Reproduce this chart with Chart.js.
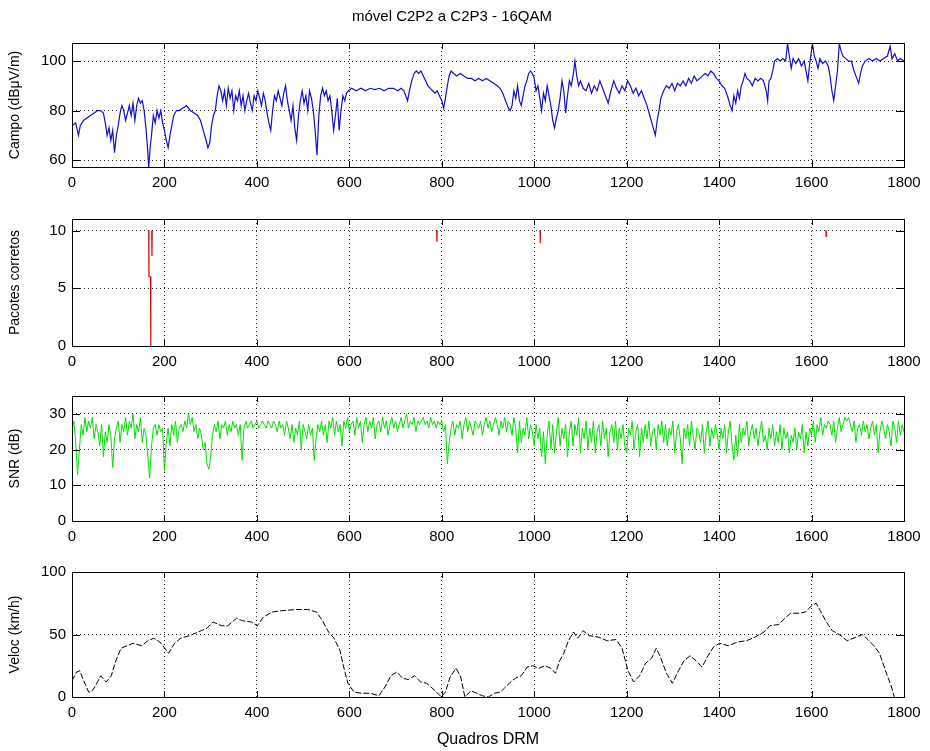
<!DOCTYPE html>
<html>
<head>
<meta charset="utf-8">
<title>móvel C2P2 a C2P3 - 16QAM</title>
<script src="https://cdn.jsdelivr.net/npm/chart.js@4.4.0/dist/chart.umd.min.js"></script>
<style>
  html, body { margin: 0; padding: 0; background: #fff; }
  #wrap { position: relative; width: 930px; height: 751px; }
  canvas { position: absolute; left: 0; }
</style>
</head>
<body>
<div id="wrap">
  <canvas id="campo" width="930" height="200" style="top:0px"></canvas>
  <canvas id="pacotes" width="930" height="180" style="top:200px"></canvas>
  <canvas id="snr" width="930" height="175" style="top:380px"></canvas>
  <canvas id="veloc" width="930" height="196" style="top:555px"></canvas>
</div>
<script>
// ticks shared by all four subplots
var xTicks = [0, 200, 400, 600, 800, 1000, 1200, 1400, 1600, 1800];
var campoTicks = [60, 80, 100];
var pacotesTicks = [0, 5, 10];
var snrTicks = [0, 10, 20, 30];
var velocTicks = [0, 50, 100];

// Campo (dBuV/m)
var campoX = [0, 8, 14, 18, 25, 32, 40, 48, 55, 62, 68, 72, 76, 80, 84, 88, 92, 96, 100, 104,
  108, 112, 116, 120, 124, 128, 132, 136, 140, 144, 148, 152, 156, 160, 163, 166, 169, 172, 176, 180,
  184, 188, 192, 196, 200, 204, 208, 212, 216, 220, 226, 232, 240, 248, 256, 264, 272, 278, 284, 290,
  294, 298, 302, 306, 310, 314, 318, 322, 326, 330, 334, 338, 342, 346, 350, 354, 358, 362, 366, 370,
  374, 378, 382, 386, 390, 394, 398, 402, 406, 410, 414, 418, 422, 426, 430, 434, 438, 442, 446, 450,
  454, 458, 462, 466, 470, 474, 478, 482, 486, 490, 494, 498, 502, 506, 510, 514, 518, 522, 526, 530,
  534, 538, 542, 546, 550, 554, 558, 562, 566, 570, 574, 578, 582, 586, 590, 594, 598, 605, 615, 625,
  635, 645, 655, 665, 675, 685, 695, 705, 712, 718, 722, 726, 730, 735, 740, 745, 750, 755, 760, 765,
  770, 775, 780, 785, 790, 795, 800, 804, 808, 812, 816, 820, 826, 832, 840, 848, 856, 864, 872, 880,
  888, 896, 904, 912, 920, 926, 932, 938, 944, 948, 952, 956, 960, 964, 968, 972, 976, 980, 984, 988,
  992, 996, 1000, 1004, 1008, 1012, 1016, 1020, 1024, 1028, 1032, 1036, 1040, 1044, 1048, 1052, 1056, 1060, 1064, 1068,
  1072, 1076, 1080, 1084, 1088, 1092, 1096, 1100, 1106, 1112, 1118, 1124, 1130, 1136, 1142, 1148, 1154, 1160, 1166, 1172,
  1178, 1184, 1190, 1196, 1202, 1208, 1214, 1220, 1226, 1232, 1238, 1244, 1250, 1256, 1262, 1266, 1270, 1274, 1280, 1286,
  1292, 1298, 1304, 1310, 1316, 1322, 1328, 1334, 1340, 1346, 1352, 1358, 1364, 1370, 1376, 1382, 1388, 1394, 1400, 1406,
  1412, 1418, 1424, 1428, 1432, 1436, 1440, 1444, 1448, 1452, 1456, 1460, 1466, 1472, 1478, 1484, 1490, 1496, 1502, 1505,
  1508, 1512, 1516, 1520, 1526, 1532, 1538, 1544, 1548, 1552, 1556, 1560, 1566, 1572, 1578, 1584, 1588, 1592, 1596, 1602,
  1606, 1610, 1614, 1618, 1624, 1630, 1636, 1640, 1644, 1648, 1652, 1656, 1660, 1664, 1668, 1674, 1680, 1686, 1692, 1698,
  1702, 1706, 1710, 1716, 1724, 1732, 1740, 1748, 1756, 1764, 1770, 1774, 1780, 1786, 1792, 1800];
var campoY = [74, 75, 70, 74, 76, 77, 78, 79, 80, 80, 79, 75, 70, 73, 68, 72, 63, 70, 74, 79,
  82, 80, 76, 79, 82, 78, 83, 76, 82, 85, 83, 84, 80, 73, 66, 57, 65, 70, 78, 75,
  80, 77, 80, 75, 72, 68, 65, 70, 74, 78, 80, 80, 81, 82, 80, 79, 78, 76, 72, 68,
  65, 67, 74, 78, 80, 86, 90, 88, 84, 88, 82, 89, 85, 88, 80, 86, 84, 88, 82, 86,
  80, 84, 87, 83, 80, 86, 84, 88, 85, 82, 87, 84, 79, 75, 72, 80, 86, 84, 88, 85,
  82, 87, 90, 84, 80, 76, 82, 73, 68, 78, 84, 88, 83, 86, 80, 88, 85, 80, 72, 62,
  78, 86, 89, 86, 88, 84, 86, 80, 72, 78, 85, 72, 80, 86, 84, 87, 88, 89, 88, 89,
  88, 89, 88.5, 89, 88, 89, 89, 88, 89, 88, 86, 84, 88, 92, 95, 96, 95, 96, 94, 92,
  90, 89, 88, 87, 88, 86, 84, 81, 85, 90, 94, 96, 95, 94, 95, 94, 93, 93, 92, 93,
  92, 93, 92, 91, 90, 89, 87, 84, 81, 80, 82, 88, 85, 90, 84, 82, 86, 90, 92, 95,
  96, 95, 93, 88, 90, 85, 80, 87, 84, 90, 86, 82, 76, 73, 77, 80, 85, 92, 88, 79,
  86, 92, 90, 94, 100, 94, 90, 92, 89, 88, 91, 87, 90, 88, 92, 89, 86, 83, 88, 92,
  89, 87, 90, 88, 92, 90, 87, 89, 86, 88, 85, 82, 78, 74, 70, 76, 80, 85, 88, 90,
  89, 91, 88, 91, 90, 92, 90, 93, 91, 94, 92, 93, 94, 95, 94, 96, 95, 93, 92, 90,
  89, 86, 82, 80, 86, 83, 88, 85, 90, 92, 95, 93, 92, 90, 93, 92, 93, 92, 88, 84,
  92, 93, 96, 100, 101, 100, 101, 100, 107, 102, 97, 101, 99, 101, 98, 100, 96, 92, 99, 107,
  102, 100, 97, 101, 99, 100, 98, 94, 88, 84, 90, 96, 107, 104, 102, 101, 100, 100, 96, 93,
  91, 95, 98, 100, 101, 100, 101, 100, 101, 102, 106, 101, 103, 100, 101, 100];

// Pacotes corretos: only the short drops below 10 are drawn, null breaks the line
var pacotesX = [166, 166.5, 170, 170.5, null, 172.5, 173, 173.5, null,
  789, 789.5, 790, null, 1012.5, 1013, 1013.5, null, 1631, 1631.5, 1632];
var pacotesY = [10, 6, 6, 0, null, 10, 7.8, 10, null,
  10, 9, 10, null, 10, 8.9, 10, null, 10, 9.5, 10];

// SNR (dB), one reading every snrStep frames
var snrStep = 4;
var snrY = [
  26, 28, 22, 13, 20, 27, 24, 29, 25, 28,
  26, 29, 23, 27, 25, 21, 27, 18, 25, 22,
  27, 24, 15, 23, 26, 28, 22, 27, 25, 29,
  24, 28, 26, 30, 23, 27, 25, 29, 22, 26,
  24, 18, 12, 21, 26, 27, 24, 27, 25, 26,
  14, 22, 26, 21, 27, 24, 28, 22, 26, 27,
  25, 28, 26, 30, 27, 29, 25, 27, 23, 26,
  24, 20, 22, 16, 14.5, 18, 24, 27, 25, 28,
  23, 27, 26, 28, 24, 27, 25, 28, 26, 27,
  24, 27, 17, 26, 28, 26, 27, 28, 26, 27,
  28, 26, 27, 28, 27, 26, 28, 27, 26, 28,
  27, 25, 28, 26, 27, 24, 28, 26, 23, 27,
  22, 26, 24, 28, 20, 27, 25, 23, 27, 24,
  26, 17, 23, 27, 25, 28, 24, 27, 22, 28,
  26, 29, 24, 28, 25, 27, 21, 28, 26, 29,
  25, 27, 28, 24, 29, 26, 28, 22, 27, 29,
  25, 28, 26, 29, 23, 27, 28, 25, 29, 26,
  28, 24, 27, 29, 26, 28, 25, 27, 29, 26,
  28, 30, 26, 28, 27, 29, 25, 28, 27, 28,
  29, 27, 28, 26, 29, 27, 28, 26, 28, 27,
  28, 25, 27, 16, 22, 26, 28, 24, 27, 26,
  28, 23, 27, 29, 25, 28, 26, 24, 28, 27,
  26, 28, 24, 27, 29, 26, 28, 25, 27, 29,
  27, 24, 28, 26, 29, 25, 28, 27, 24, 29,
  26, 19, 28, 22, 26, 24, 29, 23, 27, 25,
  21, 27, 23, 26, 18, 25, 16, 24, 28, 20,
  27, 19, 25, 29, 21, 26, 23, 27, 18, 25,
  28, 21, 27, 24, 29, 19, 26, 23, 28, 20,
  26, 22, 28, 19, 25, 27, 21, 28, 23, 26,
  18, 25, 27, 22, 28, 20, 26, 23, 27, 21,
  19, 26, 24, 28, 20, 25, 27, 18, 26, 22,
  27, 23, 28, 21, 25, 26, 20, 27, 24, 28,
  22, 27, 21, 26, 24, 28, 19, 25, 27, 23,
  16, 26, 23, 27, 21, 28, 24, 20, 26, 25,
  22, 27, 19, 25, 28, 21, 26, 23, 27, 24,
  20, 26, 23, 27, 19, 25, 28, 21, 17, 24,
  18, 27, 22, 26, 24, 28, 21, 25, 27, 23,
  26, 21, 25, 28, 22, 24, 20, 26, 23, 27,
  21, 25, 22, 27, 20, 26, 23, 25, 19, 24,
  22, 26, 20, 25, 23, 27, 19, 25, 21, 26,
  24, 28, 22, 27, 25, 29, 24, 27, 26, 28,
  27, 24, 28, 22, 26, 29, 25, 27, 29, 28,
  29, 27, 25, 28, 22, 26, 27, 24, 28, 25,
  27, 23, 26, 28, 24, 27, 19, 25, 28, 26,
  23, 27, 25, 21, 28, 26, 22, 28, 24, 27,
  25];

// Veloc (km/h)
var velocX = [0, 10, 17, 23, 36, 42, 51, 62, 74, 85, 94, 106, 119, 132, 151, 164, 177, 190, 209, 222,
  235, 254, 273, 292, 305, 324, 337, 356, 369, 388, 401, 414, 433, 453, 485, 510, 529, 542, 555, 567,
  580, 587, 597, 610, 626, 645, 664, 677, 690, 703, 715, 728, 741, 754, 767, 786, 799, 808, 818, 831,
  841, 850, 863, 876, 888, 901, 914, 927, 946, 959, 972, 985, 997, 1010, 1023, 1036, 1046, 1055, 1064, 1074,
  1085, 1094, 1106, 1119, 1138, 1158, 1177, 1190, 1203, 1215, 1228, 1241, 1254, 1264, 1273, 1286, 1299, 1312, 1324, 1337,
  1350, 1363, 1376, 1388, 1401, 1420, 1440, 1459, 1478, 1497, 1510, 1529, 1542, 1555, 1574, 1587, 1600, 1610, 1619, 1632,
  1645, 1664, 1677, 1697, 1710, 1722, 1735, 1747, 1760, 1773, 1779];
var velocY = [13, 20, 21, 15, 4, 4, 9, 17, 12, 17, 28, 39, 41, 43, 41, 45, 47, 44, 35, 43,
  47, 49, 52, 55, 60, 57, 57, 63, 61, 60, 57, 64, 68, 69, 70, 70, 68, 61, 52, 47,
  37, 25, 11, 4, 3, 3, 1, 8, 17, 20, 15, 14, 17, 12, 11, 5, 0, 4, 16, 23,
  16, 0, 5, 3, 1, 0, 3, 4, 11, 15, 17, 24, 25, 23, 25, 23, 19, 29, 35, 45,
  52, 47, 53, 49, 48, 45, 46, 39, 21, 12, 17, 27, 31, 39, 32, 19, 11, 21, 29, 33,
  29, 24, 33, 40, 43, 41, 44, 45, 48, 52, 57, 58, 63, 67, 67, 68, 73, 75, 69, 60,
  53, 49, 45, 48, 50, 46, 41, 35, 21, 8, 0];

var FONT = '"Liberation Sans", Arial, Helvetica, sans-serif';

function toPoints(xs, ys) {
  var pts = [];
  for (var i = 0; i < ys.length; i++) {
    pts.push({ x: xs[i], y: ys[i] });
  }
  return pts;
}

// MATLAB style frame: full box plus short inward tick marks
var boxPlugin = {
  id: 'matlabBox',
  afterDatasetsDraw: function(chart) {
    var a = chart.chartArea;
    var ctx = chart.ctx;
    var xs = chart.scales.x;
    var ys = chart.scales.y;
    ctx.save();
    ctx.strokeStyle = '#000';
    ctx.lineWidth = 1;
    ctx.strokeRect(Math.round(a.left) + 0.5, Math.round(a.top) + 0.5,
      Math.round(a.right - a.left), Math.round(a.bottom - a.top));
    ctx.beginPath();
    xs.ticks.forEach(function(t) {
      var px = Math.round(xs.getPixelForValue(t.value)) + 0.5;
      ctx.moveTo(px, a.bottom); ctx.lineTo(px, a.bottom - 6);
      ctx.moveTo(px, a.top); ctx.lineTo(px, a.top + 6);
    });
    ys.ticks.forEach(function(t) {
      var py = Math.round(ys.getPixelForValue(t.value)) + 0.5;
      ctx.moveTo(a.left, py); ctx.lineTo(a.left + 8, py);
      ctx.moveTo(a.right, py); ctx.lineTo(a.right - 8, py);
    });
    ctx.stroke();
    ctx.restore();
  }
};

function tickSetter(values) {
  return function(scale) {
    scale.ticks = values.map(function(v) { return { value: v }; });
  };
}

// plain numbers, no thousands separator (MATLAB prints 1000, not 1,000)
function plainLabel(v) {
  return String(v);
}

function makeChart(id, o) {
  var ctx = document.getElementById(id).getContext('2d');
  var titleOpts = { display: false };
  if (o.title) {
    titleOpts = {
      display: true, text: o.title, color: '#000',
      font: { family: FONT, size: 15, weight: 'normal' },
      padding: { top: 8, bottom: 17 }
    };
  }
  return new Chart(ctx, {
    type: 'line',
    data: {
      datasets: [{
        data: o.data,
        borderColor: o.color,
        borderWidth: o.width || 1,
        borderDash: o.dash || [],
        pointRadius: 0,
        tension: 0,
        spanGaps: false,
        fill: false
      }]
    },
    options: {
      responsive: false,
      animation: false,
      events: [],
      layout: { padding: { left: 0, right: 26, top: o.padTop, bottom: 0 } },
      plugins: {
        legend: { display: false },
        tooltip: { enabled: false },
        title: titleOpts
      },
      scales: {
        x: {
          type: 'linear',
          min: 0,
          max: 1800,
          afterBuildTicks: tickSetter(xTicks),
          afterFit: function(s) { s.height = o.xHeight; },
          grid: { color: 'rgba(0,0,0,0.85)', lineWidth: 1, drawTicks: false },
          border: { display: false, dash: [1, 3] },
          ticks: { color: '#000', padding: 7, maxRotation: 0, callback: plainLabel,
            font: { family: FONT, size: 15 } },
          title: o.xTitle ? {
            display: true, text: o.xTitle, color: '#000',
            font: { family: FONT, size: 16 }, padding: { top: 0, bottom: 2 }
          } : { display: false }
        },
        y: {
          type: 'linear',
          min: o.yMin,
          max: o.yMax,
          afterBuildTicks: tickSetter(o.yTicks),
          afterFit: function(s) { s.width = 72; },
          grid: { color: 'rgba(0,0,0,0.85)', lineWidth: 1, drawTicks: false },
          border: { display: false, dash: [1, 3] },
          ticks: { color: '#000', padding: 6, callback: plainLabel,
            font: { family: FONT, size: 15 } },
          title: {
            display: true, text: o.yTitle, color: '#000',
            font: { family: FONT, size: 14 }, padding: { top: 7, bottom: 0 }
          }
        }
      }
    },
    plugins: [boxPlugin]
  });
}

makeChart('campo', {
  title: 'móvel C2P2 a C2P3 - 16QAM',
  data: toPoints(campoX, campoY), color: '#1010d0', width: 1.2,
  yMin: 57.2, yMax: 107.3, yTicks: campoTicks, yTitle: 'Campo (dBμV/m)',
  padTop: 0, xHeight: 33
});

makeChart('pacotes', {
  data: toPoints(pacotesX, pacotesY), color: '#e00000', width: 1.2,
  yMin: 0, yMax: 11, yTicks: pacotesTicks, yTitle: 'Pacotes corretos',
  padTop: 19, xHeight: 34
});

var snrX = snrY.map(function(v, i) { return i * snrStep; });
makeChart('snr', {
  data: toPoints(snrX, snrY), color: '#00e000', width: 1,
  yMin: 0, yMax: 35, yTicks: snrTicks, yTitle: 'SNR (dB)',
  padTop: 16, xHeight: 34
});

makeChart('veloc', {
  data: toPoints(velocX, velocY), color: '#000', width: 1, dash: [6, 2],
  yMin: 0, yMax: 100, yTicks: velocTicks, yTitle: 'Veloc (km/h)',
  xTitle: 'Quadros DRM',
  padTop: 17, xHeight: 54
});
</script>
</body>
</html>
